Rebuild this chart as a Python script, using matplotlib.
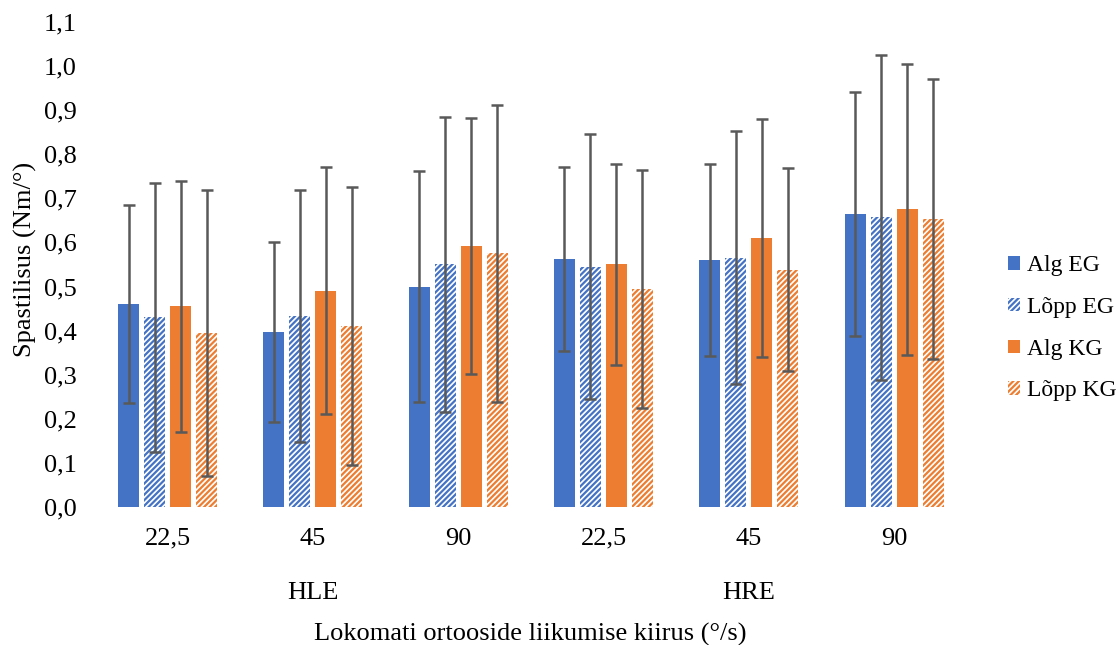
import numpy as np
import matplotlib.pyplot as plt
from matplotlib.patches import Patch
from matplotlib.transforms import blended_transform_factory

plt.rcParams["font.family"] = ["Liberation Serif", "DejaVu Serif"]
plt.rcParams["hatch.linewidth"] = 1.6

categories = ["22,5", "45", "90", "22,5", "45", "90"]
groups = ["HLE", "HRE"]
series_names = ["Alg EG", "Lõpp EG", "Alg KG", "Lõpp KG"]

alg_eg = [0.460, 0.397, 0.500, 0.562, 0.560, 0.665]
lopp_eg = [0.430, 0.433, 0.550, 0.545, 0.565, 0.657]
alg_kg = [0.455, 0.490, 0.592, 0.550, 0.610, 0.675]
lopp_kg = [0.395, 0.410, 0.575, 0.495, 0.538, 0.653]

alg_eg_err = [0.225, 0.205, 0.262, 0.208, 0.218, 0.277]
lopp_eg_err = [0.305, 0.285, 0.335, 0.300, 0.287, 0.368]
alg_kg_err = [0.285, 0.280, 0.290, 0.227, 0.270, 0.330]
lopp_kg_err = [0.325, 0.315, 0.336, 0.270, 0.230, 0.317]

BLUE = "#4472C4"
ORANGE = "#ED7D31"
ERR = "#595959"
HATCH = "//////"


def draw_chart():
    figure = plt.figure(figsize=(11.19, 6.45), dpi=100)
    figure.subplots_adjust(left=0.0848, right=0.8639, bottom=0.214, top=0.9659)
    ax = figure.add_subplot(111)

    values = [alg_eg, lopp_eg, alg_kg, lopp_kg]
    errors = [alg_eg_err, lopp_eg_err, alg_kg_err, lopp_kg_err]
    colors = [BLUE, BLUE, ORANGE, ORANGE]
    hatched = [False, True, False, True]

    x = np.arange(len(categories))
    step = 0.179
    width = 0.145
    for i in range(4):
        pos = x + (i - 1.5) * step
        if hatched[i]:
            ax.bar(pos, values[i], width, color="white", edgecolor=colors[i],
                   linewidth=0, hatch=HATCH, zorder=2)
        else:
            ax.bar(pos, values[i], width, color=colors[i], linewidth=0, zorder=2)
        ax.errorbar(pos, values[i], yerr=errors[i], fmt="none", ecolor=ERR,
                    elinewidth=1.8, capsize=4.3, capthick=1.8, zorder=3)

    ax.set_xlim(-0.5, len(categories) - 0.5)
    ax.set_ylim(0, 1.1)
    ax.set_yticks(np.arange(0, 1.11, 0.1))
    ax.set_yticklabels([("%.1f" % v).replace(".", ",") for v in np.arange(0, 1.11, 0.1)])
    ax.set_xticks(x)
    ax.set_xticklabels(categories)
    ax.tick_params(axis="y", length=0, pad=13, labelsize=19)
    ax.tick_params(axis="x", length=0, pad=15, labelsize=19)
    for s in ax.spines.values():
        s.set_visible(False)

    trans = blended_transform_factory(ax.transData, figure.transFigure)
    for g, name in enumerate(groups):
        ax.text(1 + 3 * g, 0.081, name, transform=trans, ha="center",
                va="center", fontsize=19)

    figure.text(530 / 1119, 0.016, "Lokomati ortooside liikumise kiirus (°/s)",
                ha="center", va="center", fontsize=19)
    figure.text(25 / 1119, 0.597, "Spastilisus (Nm/°)", rotation=90,
                ha="center", va="center", fontsize=19)

    handles = []
    for i in range(4):
        if hatched[i]:
            handles.append(Patch(facecolor="white", edgecolor=colors[i],
                                 linewidth=0, hatch=HATCH))
        else:
            handles.append(Patch(facecolor=colors[i], linewidth=0))
    figure.legend(handles, series_names, loc="center left",
                  bbox_to_anchor=(0.9008, 0.491), frameon=False, fontsize=17,
                  borderpad=0, borderaxespad=0, handlelength=0.51,
                  handleheight=0.51, handletextpad=0.3, labelspacing=0.88)

    figure.savefig("out.png", dpi=100)


if __name__ == "__main__":
    draw_chart()
